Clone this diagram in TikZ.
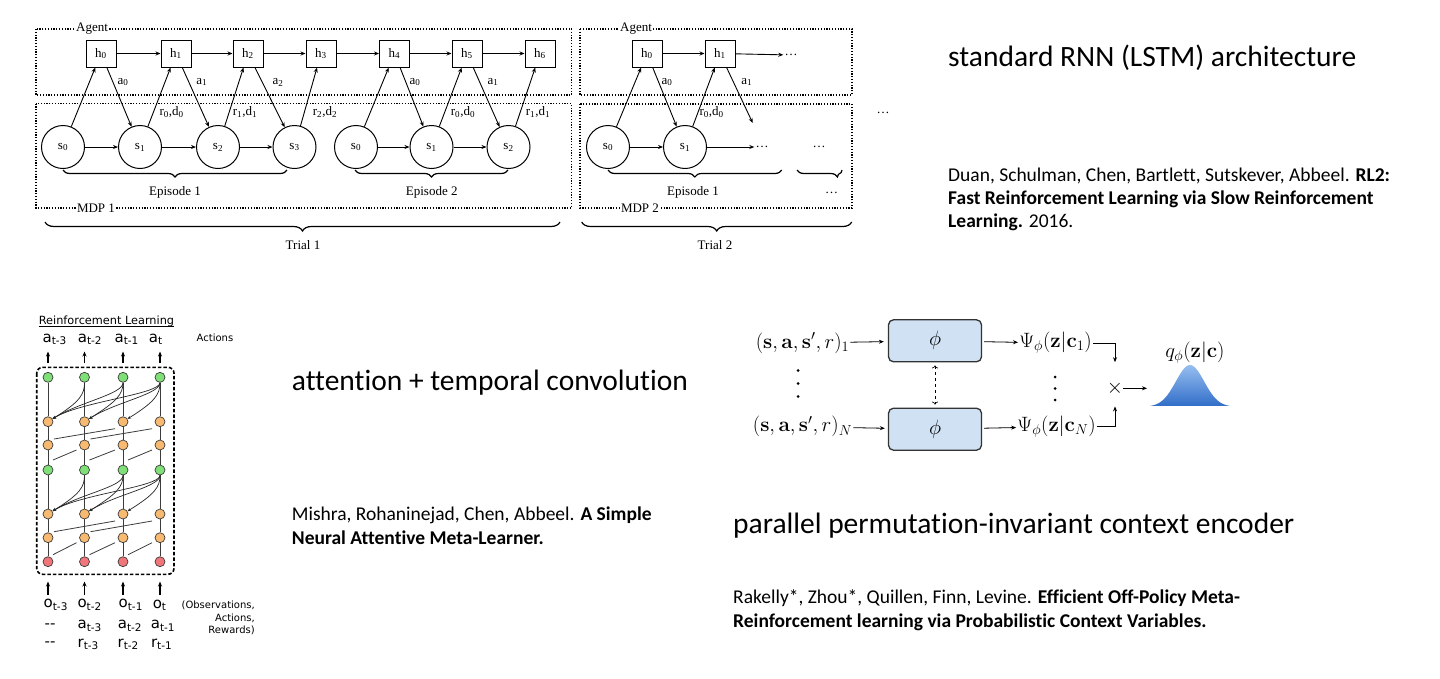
\documentclass[tikz,border=0pt]{standalone}
\usepackage[no-math]{fontspec}
\setmainfont{Carlito}[Ligatures=NoCommon]
\newfontfamily\timesfont{Liberation Serif}
\newfontfamily\verafont{DejaVu Sans}
\usetikzlibrary{arrows.meta,decorations.pathreplacing,calc}

\definecolor{snailgreen}{RGB}{128,224,120}
\definecolor{snailorange}{RGB}{248,186,112}
\definecolor{snailred}{RGB}{240,118,122}
\definecolor{snailline}{RGB}{60,60,60}
\definecolor{phiblue}{RGB}{207,225,242}
\definecolor{gausstop}{RGB}{150,190,240}
\definecolor{gaussbot}{RGB}{50,110,200}

\newcommand{\rnnfont}{\fontsize{13}{15}\selectfont\timesfont}
\newcommand{\snailfont}{\fontsize{15}{17}\selectfont\verafont}
\newcommand{\snailsmall}{\fontsize{10}{12.3}\selectfont\verafont}
\newcommand{\pearlfont}{\fontsize{21}{25}\selectfont}

\tikzset{
  hcell/.style={draw, line width=1pt, minimum width=30, minimum height=27, inner sep=0pt, font=\rnnfont},
  scell/.style={draw, circle, line width=1pt, minimum size=43, inner sep=0pt, font=\rnnfont},
  rnnlbl/.style={font=\rnnfont, inner sep=1pt},
  rnnarr/.style={-{Stealth[length=5pt,width=4pt]}, line width=0.9pt},
  dotbox/.style={line width=1.2pt, dash pattern=on 1.2pt off 1.6pt},
  boxlbl/.style={font=\rnnfont, fill=white, inner sep=1pt},
  brc/.style={decorate, decoration={brace, mirror, amplitude=7pt}, line width=1.2pt},
  snode/.style={circle, draw=snailline, line width=0.7pt, minimum size=10, inner sep=0pt},
  snline/.style={draw=snailline, line width=0.8pt},
  snarr/.style={-{Stealth[length=3.5pt,width=3pt]}, draw=black!85, line width=0.7pt},
  snup/.style={-{Stealth[length=5pt,width=4pt]}, line width=1.4pt},
  snbox/.style={line width=1.6pt, dash pattern=on 3.5pt off 2pt, rounded corners=6pt},
  sntxt/.style={font=\snailfont, inner sep=0pt},
  pearltxt/.style={font=\pearlfont, inner sep=1pt},
  phibox/.style={draw=black!80, fill=phiblue, line width=1.3pt, rounded corners=5pt, minimum width=93, minimum height=42, font=\pearlfont},
  parr/.style={-{Stealth[length=5pt,width=4pt]}, line width=0.8pt},
  headtxt/.style={font=\fontsize{29.5}{35}\selectfont, inner sep=0pt, anchor=base west},
  citetxt/.style={font=\fontsize{19.5}{23.3}\selectfont, inner sep=0pt, anchor=base west, align=left}
}

\begin{document}
\begin{tikzpicture}[x=1pt,y=-1pt]
\useasboundingbox (0,0) rectangle (1440,678);
%
% RL^2 : trial 1
\draw[dotbox] (36,29) rectangle (571.5,95);
\draw[dotbox] (36,103.5) rectangle (571.5,208);
\node[boxlbl] (agent1) at (92,29) {Agent};
\node[boxlbl] (mdp1) at (96,208) {MDP 1};
%
\node[hcell] (h0) at (101,53.5) {h\textsubscript{0}};
\node[hcell] (h1) at (176,53.5) {h\textsubscript{1}};
\node[hcell] (h2) at (248,53.5) {h\textsubscript{2}};
\node[hcell] (h3) at (321,53.5) {h\textsubscript{3}};
\node[hcell] (h4) at (394.5,53.5) {h\textsubscript{4}};
\node[hcell] (h5) at (467,53.5) {h\textsubscript{5}};
\node[hcell] (h6) at (540,53.5) {h\textsubscript{6}};
\node[scell] (s0) at (63,147) {s\textsubscript{0}};
\node[scell] (s1) at (140,147) {s\textsubscript{1}};
\node[scell] (s2) at (218,147) {s\textsubscript{2}};
\node[scell] (s3) at (294.5,147) {s\textsubscript{3}};
\node[scell] (e2s0) at (356,147) {s\textsubscript{0}};
\node[scell] (e2s1) at (431.5,147) {s\textsubscript{1}};
\node[scell] (e2s2) at (508.5,147) {s\textsubscript{2}};
%
\draw[rnnarr] (h0) -- (h1);
\draw[rnnarr] (h1) -- (h2);
\draw[rnnarr] (h2) -- (h3);
\draw[rnnarr] (h3) -- (h4);
\draw[rnnarr] (h4) -- (h5);
\draw[rnnarr] (h5) -- (h6);
\draw[rnnarr] (s0) -- (s1);
\draw[rnnarr] (s1) -- (s2);
\draw[rnnarr] (s2) -- (s3);
\draw[rnnarr] (e2s0) -- (e2s1);
\draw[rnnarr] (e2s1) -- (e2s2);
%
\draw[rnnarr] (s0) -- (h0);
\draw[rnnarr] (h0) -- (s1);
\draw[rnnarr] (s1) -- (h1);
\draw[rnnarr] (h1) -- (s2);
\draw[rnnarr] (s2) -- (h2);
\draw[rnnarr] (h2) -- (s3);
\draw[rnnarr] (s3) -- (h3);
\draw[rnnarr] (e2s0) -- (h4);
\draw[rnnarr] (h4) -- (e2s1);
\draw[rnnarr] (e2s1) -- (h5);
\draw[rnnarr] (h5) -- (e2s2);
\draw[rnnarr] (e2s2) -- (h6);
%
\node[rnnlbl] (la0) at (123,82) {a\textsubscript{0}};
\node[rnnlbl] (la1) at (201.7,82) {a\textsubscript{1}};
\node[rnnlbl] (la2) at (278,82) {a\textsubscript{2}};
\node[rnnlbl] (lr0) at (171.7,111.7) {r\textsubscript{0},d\textsubscript{0}};
\node[rnnlbl] (lr1) at (245,111.7) {r\textsubscript{1},d\textsubscript{1}};
\node[rnnlbl] (lr2) at (325,111.7) {r\textsubscript{2},d\textsubscript{2}};
\node[rnnlbl] (le2a0) at (415,82) {a\textsubscript{0}};
\node[rnnlbl] (le2r0) at (463,111.7) {r\textsubscript{0},d\textsubscript{0}};
\node[rnnlbl] (le2a1) at (493,82) {a\textsubscript{1}};
\node[rnnlbl] (le2r1) at (538,111.7) {r\textsubscript{1},d\textsubscript{1}};
%
\draw[brc] (63,170) -- (287,170);
\node[rnnlbl] (ep1) at (175,192.7) {Episode 1};
\draw[brc] (355,170) -- (508,170);
\node[rnnlbl] (ep2) at (431.7,192.7) {Episode 2};
\draw[brc,decoration={amplitude=9pt}] (45,222) -- (560,222);
\node[rnnlbl] (tr1) at (303,245) {Trial 1};
%
% RL^2 : trial 2
\draw[dotbox] (580,29) rectangle (852,95);
\draw[dotbox] (580,104) rectangle (852,208);
\node[boxlbl] (agent2) at (636,29) {Agent};
\node[boxlbl] (mdp2) at (640,208) {MDP 2};
%
\node[hcell] (t2h0) at (647,53.5) {h\textsubscript{0}};
\node[hcell] (t2h1) at (720,53.5) {h\textsubscript{1}};
\node[rnnlbl] (t2hd) at (791,55) {\dots};
\node[scell] (t2s0) at (608,147) {s\textsubscript{0}};
\node[scell] (t2s1) at (685,147) {s\textsubscript{1}};
\node[rnnlbl] (t2sd) at (762,147) {\dots};
\node[rnnlbl] (t2sd2) at (819,147) {\dots};
\coordinate (t2a1) at (752.7,123);
%
\draw[rnnarr] (t2h0) -- (t2h1);
\draw[rnnarr] (t2h1) -- (t2hd);
\draw[rnnarr] (t2s0) -- (t2s1);
\draw[rnnarr] (t2s1) -- (t2sd);
\draw[rnnarr] (t2s0) -- (t2h0);
\draw[rnnarr] (t2h0) -- (t2s1);
\draw[rnnarr] (t2s1) -- (t2h1);
\draw[rnnarr] (t2h1) -- (t2a1);
\node[rnnlbl] (lt2a0) at (667,82) {a\textsubscript{0}};
\node[rnnlbl] (lt2r0) at (711.7,111.7) {r\textsubscript{0},d\textsubscript{0}};
\node[rnnlbl] (lt2a1) at (746.7,82) {a\textsubscript{1}};
%
\draw[brc] (608,170) -- (781.7,170);
\node[rnnlbl] (t2ep1) at (693,192.7) {Episode 1};
\draw[brc,decoration={aspect=0.9}] (797,170) -- (842,170);
\node[rnnlbl] (t2epd) at (831.7,193) {\dots};
\draw[brc,decoration={amplitude=9pt}] (581.7,222) -- (851.7,222);
\node[rnnlbl] (tr2) at (715,245) {Trial 2};
\node[rnnlbl] (trd) at (883,113) {\dots};
%
% SNAIL
\node[font=\fontsize{11.3}{13}\selectfont\verafont, inner sep=0pt] (rl) at (106.5,321.7) {Reinforcement Learning};
\draw[line width=0.8pt] ($(rl.base west)+(0,1.5)$) -- ($(rl.base east)+(0,1.5)$);
\node[font=\snailsmall, inner sep=0pt] (acts) at (215,338) {Actions};
\draw[snbox] (36.7,367.3) rectangle (174,574.3);
\foreach \c/\x in {0/48,1/84.5,2/123,3/160} {
  \node[snode, fill=snailgreen] (gtop-\c) at (\x,377.3) {};
  \node[snode, fill=snailorange] (o1-\c) at (\x,421.7) {};
  \node[snode, fill=snailorange] (o2-\c) at (\x,445) {};
  \node[snode, fill=snailgreen] (gmid-\c) at (\x,470) {};
  \node[snode, fill=snailorange] (o3-\c) at (\x,514) {};
  \node[snode, fill=snailorange] (o4-\c) at (\x,537.7) {};
  \node[snode, fill=snailred] (inp-\c) at (\x,561.7) {};
  \draw[snline] (gtop-\c) -- (o1-\c) -- (o2-\c) -- (gmid-\c) -- (o3-\c) -- (o4-\c) -- (inp-\c);
  \coordinate (up-\c) at (\x,363);
  \coordinate (upt-\c) at (\x,351.5);
  \draw[snup] (up-\c) -- (upt-\c);
  \coordinate (dn-\c) at (\x,595);
  \coordinate (dnt-\c) at (\x,581.5);
  \draw[snup] (dn-\c) -- (dnt-\c);
}
\foreach \c/\d in {0/2,1/3} {
  \draw[snline] ($(o2-\c)+(6,-6)$) -- ($(o1-\d)+(-8,7)$);
  \draw[snline] ($(o4-\c)+(6,-6)$) -- ($(o3-\d)+(-8,7)$);
}
\foreach \c/\d in {0/1,1/2,2/3} {
  \draw[snline] ($(gmid-\c)+(5,-10)$) -- ($(o2-\d)+(-8,5)$);
  \draw[snline] ($(inp-\c)+(5,-7)$) -- ($(o4-\d)+(-8,5)$);
}
\foreach \j/\i in {1/0,2/0,2/1,3/0,3/1,3/2} {
  \draw[snarr] (gtop-\j) .. controls ($(gtop-\j)+(0,17)$) and ($(o1-\i)+(32,-20)$) .. (o1-\i);
  \draw[snarr] (gmid-\j) .. controls ($(gmid-\j)+(0,17)$) and ($(o3-\i)+(32,-20)$) .. (o3-\i);
}
%
\node[sntxt] (act-0) at (54.7,339.3) {a\textsubscript{t-3}};
\node[sntxt] (act-1) at (90,339.3) {a\textsubscript{t-2}};
\node[sntxt] (act-2) at (126.7,339.3) {a\textsubscript{t-1}};
\node[sntxt] (act-3) at (155.8,339.3) {a\textsubscript{t}};
\node[sntxt] (obs-0) at (55.8,605) {o\textsubscript{t-3}};
\node[sntxt] (obs-1) at (89.7,605) {o\textsubscript{t-2}};
\node[sntxt] (obs-2) at (130.8,605) {o\textsubscript{t-1}};
\node[sntxt] (obs-3) at (159.7,605) {o\textsubscript{t}};
\node[sntxt] (pa-0) at (50,625.7) {-{}-};
\node[sntxt] (pa-1) at (89.7,625.7) {a\textsubscript{t-3}};
\node[sntxt] (pa-2) at (130,625.7) {a\textsubscript{t-2}};
\node[sntxt] (pa-3) at (163,625.7) {a\textsubscript{t-1}};
\node[sntxt] (pr-0) at (50,644.3) {-{}-};
\node[sntxt] (pr-1) at (88.3,644.3) {r\textsubscript{t-3}};
\node[sntxt] (pr-2) at (128.3,644.3) {r\textsubscript{t-2}};
\node[sntxt] (pr-3) at (161.7,644.3) {r\textsubscript{t-1}};
\node[font=\snailsmall, inner sep=0pt, align=right, anchor=east] (oar) at (255,618) {(Observations,\\Actions,\\Rewards)};
%
% PEARL
\node[pearltxt] (tup1) at (802.5,343) {$(\mathbf{s},\mathbf{a},\mathbf{s}',r)_1$};
\node[pearltxt] (tupN) at (802.5,426.7) {$(\mathbf{s},\mathbf{a},\mathbf{s}',r)_N$};
\foreach \k in {0,1,2} \fill (798,370.5+13*\k) circle (1.5);
\node[phibox] (enc1) at (935,340.8) {$\phi$};
\node[phibox] (encN) at (935,429.2) {$\phi$};
\node[pearltxt] (psi1) at (1055.5,343) {$\Psi_\phi(\mathbf{z}|\mathbf{c}_1)$};
\node[pearltxt] (psiN) at (1056.5,426.7) {$\Psi_\phi(\mathbf{z}|\mathbf{c}_N)$};
\foreach \k in {0,1,2} \fill (1055,377+11.5*\k) circle (1.5);
\node[pearltxt, inner sep=0pt] (prod) at (1115,388.3) {$\times$};
\node[pearltxt] (post) at (1195,353) {$q_\phi(\mathbf{z}|\mathbf{c})$};
\coordinate (gin) at (1147,388.3);
%
\draw[parr, shorten >=4pt] (tup1) -- (enc1);
\draw[parr, shorten >=3pt] (tupN) -- (encN);
\draw[parr, shorten <=2pt] (enc1) -- (psi1);
\draw[parr, shorten <=2pt] (encN) -- (psiN);
\draw[parr, <->, dashed, line width=0.6pt, shorten <=3pt, shorten >=3pt] (enc1) -- (encN);
\draw[parr, shorten >=19pt] (psi1.east) -| (prod);
\draw[parr, shorten >=11pt] (psiN.east) -| (prod);
\draw[parr] (prod) -- (gin);
\shade[top color=gausstop, bottom color=gaussbot] plot[domain=1150:1230, samples=60] (\x,{406.7-41.7*exp(-((\x-1190)/20)*((\x-1190)/20))}) -- cycle;
%
% text
\node[headtxt] (hd1) at (948,66.7) {standard RNN (LSTM) architecture};
\node[citetxt] (ct1) at (948,227.7) {Duan, Schulman, Chen, Bartlett, Sutskever, Abbeel. \textbf{RL2:}\\\textbf{Fast Reinforcement Learning via Slow Reinforcement}\\\textbf{Learning.} 2016.};
\node[headtxt] (hd2) at (291.7,390) {attention + temporal convolution};
\node[citetxt] (ct2) at (291.7,544) {Mishra, Rohaninejad, Chen, Abbeel. \textbf{A Simple}\\\textbf{Neural Attentive Meta-Learner.}};
\node[headtxt] (hd3) at (733,533) {parallel permutation-invariant context encoder};
\node[citetxt] (ct3) at (733,627) {Rakelly*, Zhou*, Quillen, Finn, Levine. \textbf{Efficient Off-Policy Meta-}\\\textbf{Reinforcement learning via Probabilistic Context Variables.}};
\end{tikzpicture}
\end{document}
